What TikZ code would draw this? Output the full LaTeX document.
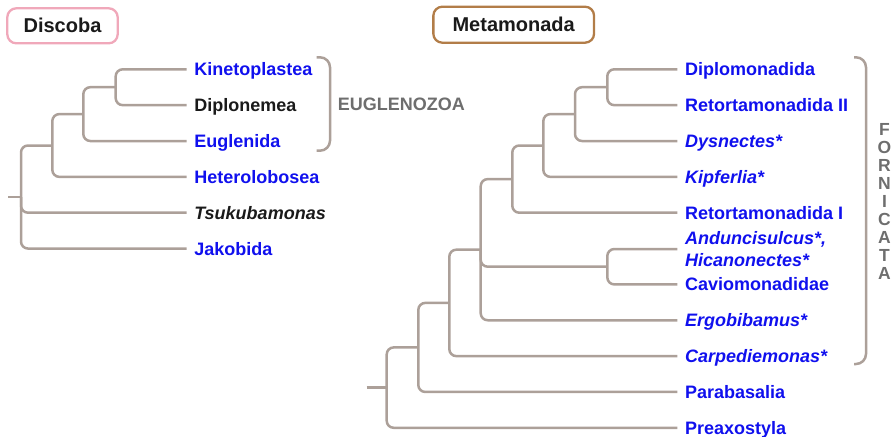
\documentclass[tikz,border=0pt]{standalone}
\usepackage{fontspec}
\setmainfont{Liberation Sans}
\definecolor{brc}{RGB}{172,160,153}
\definecolor{tblue}{RGB}{16,16,238}
\definecolor{dark}{RGB}{26,26,26}
\definecolor{gry}{RGB}{110,110,110}
\definecolor{pinkc}{RGB}{240,168,186}
\definecolor{brownc}{RGB}{178,125,72}
\newcommand\lfont{\fontsize{18}{21.7}\selectfont\bfseries}
\tikzset{
  branch/.style={draw=brc, line width=2.5pt, rounded corners=7pt},
  leafbase/.style={anchor=west, inner xsep=7.5pt, inner ysep=0pt, font=\lfont},
  one/.style={leafbase, text height=12.9pt, text depth=0pt},
  bl/.style={text=tblue},
  bk/.style={text=dark},
  ital/.style={font=\lfont\itshape},
  titlebox/.style={line width=2.3pt, rounded corners=9pt, inner sep=0pt,
    font=\fontsize{20}{24}\selectfont\bfseries, text=dark},
  cladelabel/.style={inner sep=0pt, text=gry}
}
\begin{document}
\begin{tikzpicture}[x=1pt,y=-1pt]
\useasboundingbox (0,0) rectangle (893,436);
% titles
\node[titlebox, draw=pinkc, minimum width=110.4pt, minimum height=35pt] (disc) at (62.5,25.8) {Discoba};
\node[titlebox, draw=brownc, minimum width=160.7pt, minimum height=36pt] (meta) at (513.7,24.7) {Metamonada};
% left leaves
\node[one,bl] (kin) at (186.7,69.3) {Kinetoplastea};
\node[one,bk] (dipn) at (186.7,105.15) {Diplonemea};
\node[one,bl] (eug) at (186.7,141.0) {Euglenida};
\node[one,bl] (het) at (186.7,176.85) {Heterolobosea};
\node[one,bk,ital] (tsu) at (186.7,212.7) {Tsukubamonas};
\node[one,bl] (jak) at (186.7,248.55) {Jakobida};
% left internal
\coordinate (a1) at (115.7,87.2);
\coordinate (a2) at (83.3,114.1);
\coordinate (a3) at (52.3,145.5);
\coordinate (a4) at (21,197);
\coordinate (a0) at (8.3,197);
\draw[branch] (kin.west) -| (a1) |- (dipn.west);
\draw[branch] (a1) -| (a2) |- (eug.west);
\draw[branch] (a2) -| (a3) |- (het.west);
\draw[branch] (a3) -| (a4) |- (jak.west);
\draw[branch] (a4) |- (tsu.west);
\draw[branch] (a0) -- (a4);
% Euglenozoa bracket
\draw[branch, rounded corners=10pt] (316.7,57.3) -- (330,57.3) -- (330,150.7) -- (316.7,150.7);
\node[cladelabel, anchor=west, text height=12.9pt, text depth=0pt, font=\lfont] (eugz) at (337.7,104.5) {EUGLENOZOA};
% right leaves
\node[one,bl] (dipl) at (677.3,69.3) {Diplomonadida};
\node[one,bl] (ret2) at (677.3,105.15) {Retortamonadida II};
\node[one,bl,ital] (dys) at (677.3,141.0) {Dysnectes*};
\node[one,bl,ital] (kip) at (677.3,176.85) {Kipferlia*};
\node[one,bl] (ret1) at (677.3,212.7) {Retortamonadida I};
\node[leafbase,bl,ital,align=left] (andun) at (677.3,249.05) {Anduncisulcus*,\\Hicanonectes*};
\node[one,bl] (cav) at (677.3,284.4) {Caviomonadidae};
\node[one,bl,ital] (erg) at (677.3,320.25) {Ergobibamus*};
\node[one,bl,ital] (carp) at (677.3,356.1) {Carpediemonas*};
\node[one,bl] (para) at (677.3,391.95) {Parabasalia};
\node[one,bl] (prea) at (677.3,427.8) {Preaxostyla};
% right internal
\coordinate (b1) at (607.3,87.2);
\coordinate (b2) at (575,114.1);
\coordinate (b3) at (543.3,145.5);
\coordinate (b4) at (512.3,179.1);
\coordinate (c1) at (607.3,266.7);
\coordinate (b5) at (480.7,249.7);
\coordinate (b6) at (449.3,302.9);
\coordinate (b7) at (418.3,347.4);
\coordinate (b8) at (386.7,387.6);
\coordinate (b0) at (366.7,387.6);
\draw[branch] (dipl.west) -| (b1) |- (ret2.west);
\draw[branch] (b1) -| (b2) |- (dys.west);
\draw[branch] (b2) -| (b3) |- (kip.west);
\draw[branch] (b3) -| (b4) |- (ret1.west);
\draw[branch] (andun.west) -| (c1) |- (cav.west);
\draw[branch] (b4) -| (b5) |- (erg.west);
\draw[branch] (b5) |- (c1);
\draw[branch] (b5) -| (b6) |- (carp.west);
\draw[branch] (b6) -| (b7) |- (para.west);
\draw[branch] (b7) -| (b8) |- (prea.west);
\draw[branch] (b0) -- (b8);
% Fornicata bracket
\draw[branch, rounded corners=10pt] (854,57.3) -- (866,57.3) -- (866,364) -- (854,364);
\node[cladelabel, align=center, font=\fontsize{17.5}{18}\selectfont\bfseries] (forn) at (884.5,201.3) {F\\O\\R\\N\\I\\C\\A\\T\\A};
\end{tikzpicture}
\end{document}
